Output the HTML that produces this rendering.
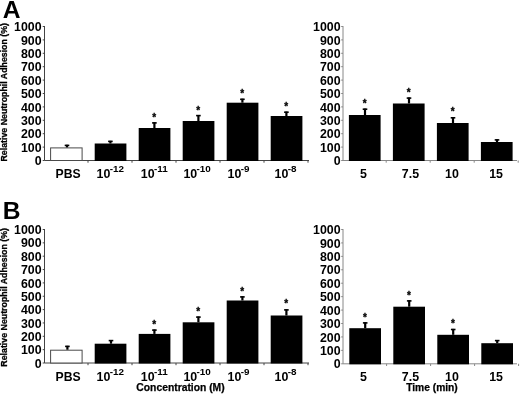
<!DOCTYPE html><html><head><meta charset="utf-8"><title>Figure</title><style>html,body{margin:0;padding:0;background:#fff}svg{display:block}text{font-family:"Liberation Sans",Arial,sans-serif;font-weight:bold;fill:#000}</style></head><body>
<svg width="520" height="394" viewBox="0 0 520 394">
<rect width="520" height="394" fill="#fff"/>
<text x="2.7" y="18.1" font-size="24.6">A</text>
<text transform="translate(6.6,161.5) rotate(-90)" font-size="9.4" stroke="#000" stroke-width="0.3" textLength="138.5" lengthAdjust="spacingAndGlyphs">Relative Neutrophil Adhesion (%)</text>
<path d="M44.5 26.0V160.5H309" fill="none" stroke="#444" stroke-width="1"/>
<path d="M42.7 160.50H44.5" stroke="#444" stroke-width="1"/>
<text transform="translate(41.6,165.10) scale(0.99,1)" font-size="12.5" text-anchor="end">0</text>
<path d="M42.7 147.10H44.5" stroke="#444" stroke-width="1"/>
<text transform="translate(41.6,151.70) scale(0.99,1)" font-size="12.5" text-anchor="end">100</text>
<path d="M42.7 133.70H44.5" stroke="#444" stroke-width="1"/>
<text transform="translate(41.6,138.30) scale(0.99,1)" font-size="12.5" text-anchor="end">200</text>
<path d="M42.7 120.30H44.5" stroke="#444" stroke-width="1"/>
<text transform="translate(41.6,124.90) scale(0.99,1)" font-size="12.5" text-anchor="end">300</text>
<path d="M42.7 106.90H44.5" stroke="#444" stroke-width="1"/>
<text transform="translate(41.6,111.50) scale(0.99,1)" font-size="12.5" text-anchor="end">400</text>
<path d="M42.7 93.50H44.5" stroke="#444" stroke-width="1"/>
<text transform="translate(41.6,98.10) scale(0.99,1)" font-size="12.5" text-anchor="end">500</text>
<path d="M42.7 80.10H44.5" stroke="#444" stroke-width="1"/>
<text transform="translate(41.6,84.70) scale(0.99,1)" font-size="12.5" text-anchor="end">600</text>
<path d="M42.7 66.70H44.5" stroke="#444" stroke-width="1"/>
<text transform="translate(41.6,71.30) scale(0.99,1)" font-size="12.5" text-anchor="end">700</text>
<path d="M42.7 53.30H44.5" stroke="#444" stroke-width="1"/>
<text transform="translate(41.6,57.90) scale(0.99,1)" font-size="12.5" text-anchor="end">800</text>
<path d="M42.7 39.90H44.5" stroke="#444" stroke-width="1"/>
<text transform="translate(41.6,44.50) scale(0.99,1)" font-size="12.5" text-anchor="end">900</text>
<path d="M42.7 26.50H44.5" stroke="#444" stroke-width="1"/>
<text transform="translate(41.6,31.10) scale(0.99,1)" font-size="12.5" text-anchor="end">1000</text>
<path d="M88 160.5v2.2" stroke="#444" stroke-width="1"/>
<path d="M132 160.5v2.2" stroke="#444" stroke-width="1"/>
<path d="M176 160.5v2.2" stroke="#444" stroke-width="1"/>
<path d="M220 160.5v2.2" stroke="#444" stroke-width="1"/>
<path d="M264 160.5v2.2" stroke="#444" stroke-width="1"/>
<path d="M308 160.5v2.2" stroke="#444" stroke-width="1"/>
<rect x="50.6" y="147.9" width="31.5" height="12.599999999999994" fill="#fff" stroke="#4a4a4a" stroke-width="1"/>
<path d="M67.0 147.4V144.8" stroke="#000" stroke-width="2.2"/>
<path d="M64.7 145.4h4.6" stroke="#000" stroke-width="1.6"/>
<text x="55.6" y="178.3" font-size="12.2">PBS</text>
<rect x="94.7" y="143.5" width="31.7" height="17.5" fill="#000"/>
<path d="M110.4 143.5V140.8" stroke="#000" stroke-width="2.2"/>
<path d="M108.10000000000001 141.4h4.6" stroke="#000" stroke-width="1.6"/>
<text x="96.6" y="178.3" font-size="12.4">10<tspan dx="-0.7" dy="-6.0" font-size="9.9">-12</tspan></text>
<rect x="138.7" y="128" width="31.7" height="33.0" fill="#000"/>
<path d="M154.4 128V122.3" stroke="#000" stroke-width="2.2"/>
<path d="M152.1 122.9h4.6" stroke="#000" stroke-width="1.6"/>
<text x="154.20000000000002" y="121.0" font-size="10" text-anchor="middle" stroke="#000" stroke-width="0.3">*</text>
<text x="140.8" y="178.3" font-size="12.4">10<tspan dx="-0.7" dy="-6.0" font-size="9.9">-11</tspan></text>
<rect x="182.7" y="121" width="31.7" height="40.0" fill="#000"/>
<path d="M198.4 121V115.0" stroke="#000" stroke-width="2.2"/>
<path d="M196.1 115.60000000000001h4.6" stroke="#000" stroke-width="1.6"/>
<text x="198.20000000000002" y="113.60000000000001" font-size="10" text-anchor="middle" stroke="#000" stroke-width="0.3">*</text>
<text x="183.4" y="178.3" font-size="12.4">10<tspan dx="-0.7" dy="-6.0" font-size="9.9">-10</tspan></text>
<rect x="226.7" y="102.7" width="31.7" height="58.3" fill="#000"/>
<path d="M242.4 102.7V98.7" stroke="#000" stroke-width="2.2"/>
<path d="M240.1 99.30000000000001h4.6" stroke="#000" stroke-width="1.6"/>
<text x="242.20000000000002" y="97.10000000000001" font-size="10" text-anchor="middle" stroke="#000" stroke-width="0.3">*</text>
<text x="227.6" y="178.3" font-size="12.4">10<tspan dx="-0.7" dy="-6.0" font-size="9.9">-9</tspan></text>
<rect x="270.7" y="116" width="31.7" height="45.0" fill="#000"/>
<path d="M286.4 116V111.6" stroke="#000" stroke-width="2.2"/>
<path d="M284.09999999999997 112.2h4.6" stroke="#000" stroke-width="1.6"/>
<text x="286.2" y="110.10000000000001" font-size="10" text-anchor="middle" stroke="#000" stroke-width="0.3">*</text>
<text x="274.6" y="178.3" font-size="12.4">10<tspan dx="-0.7" dy="-6.0" font-size="9.9">-8</tspan></text>
<path d="M343 26.0V160.5H517" fill="none" stroke="#888" stroke-width="1"/>
<path d="M341.2 160.50H343" stroke="#888" stroke-width="1"/>
<text transform="translate(340.6,165.10) scale(0.99,1)" font-size="12.5" text-anchor="end">0</text>
<path d="M341.2 147.10H343" stroke="#888" stroke-width="1"/>
<text transform="translate(340.6,151.70) scale(0.99,1)" font-size="12.5" text-anchor="end">100</text>
<path d="M341.2 133.70H343" stroke="#888" stroke-width="1"/>
<text transform="translate(340.6,138.30) scale(0.99,1)" font-size="12.5" text-anchor="end">200</text>
<path d="M341.2 120.30H343" stroke="#888" stroke-width="1"/>
<text transform="translate(340.6,124.90) scale(0.99,1)" font-size="12.5" text-anchor="end">300</text>
<path d="M341.2 106.90H343" stroke="#888" stroke-width="1"/>
<text transform="translate(340.6,111.50) scale(0.99,1)" font-size="12.5" text-anchor="end">400</text>
<path d="M341.2 93.50H343" stroke="#888" stroke-width="1"/>
<text transform="translate(340.6,98.10) scale(0.99,1)" font-size="12.5" text-anchor="end">500</text>
<path d="M341.2 80.10H343" stroke="#888" stroke-width="1"/>
<text transform="translate(340.6,84.70) scale(0.99,1)" font-size="12.5" text-anchor="end">600</text>
<path d="M341.2 66.70H343" stroke="#888" stroke-width="1"/>
<text transform="translate(340.6,71.30) scale(0.99,1)" font-size="12.5" text-anchor="end">700</text>
<path d="M341.2 53.30H343" stroke="#888" stroke-width="1"/>
<text transform="translate(340.6,57.90) scale(0.99,1)" font-size="12.5" text-anchor="end">800</text>
<path d="M341.2 39.90H343" stroke="#888" stroke-width="1"/>
<text transform="translate(340.6,44.50) scale(0.99,1)" font-size="12.5" text-anchor="end">900</text>
<path d="M341.2 26.50H343" stroke="#888" stroke-width="1"/>
<text transform="translate(340.6,31.10) scale(0.99,1)" font-size="12.5" text-anchor="end">1000</text>
<path d="M386.2 160.5v2.2" stroke="#888" stroke-width="1"/>
<path d="M430.2 160.5v2.2" stroke="#888" stroke-width="1"/>
<path d="M474.2 160.5v2.2" stroke="#888" stroke-width="1"/>
<path d="M518.2 160.5v2.2" stroke="#888" stroke-width="1"/>
<rect x="348.9" y="115" width="31.7" height="46.0" fill="#000"/>
<path d="M364.99999999999994 115V108.6" stroke="#000" stroke-width="2.2"/>
<path d="M362.69999999999993 109.2h4.6" stroke="#000" stroke-width="1.6"/>
<text x="364.79999999999995" y="106.7" font-size="10" text-anchor="middle" stroke="#000" stroke-width="0.3">*</text>
<text x="359.9" y="178.3" font-size="12.4">5</text>
<rect x="392.9" y="103.5" width="31.7" height="57.5" fill="#000"/>
<path d="M408.99999999999994 103.5V97.5" stroke="#000" stroke-width="2.2"/>
<path d="M406.69999999999993 98.10000000000001h4.6" stroke="#000" stroke-width="1.6"/>
<text x="408.79999999999995" y="96.10000000000001" font-size="10" text-anchor="middle" stroke="#000" stroke-width="0.3">*</text>
<text x="401.8" y="178.3" font-size="12.4">7.5</text>
<rect x="436.9" y="123" width="31.7" height="38.0" fill="#000"/>
<path d="M452.99999999999994 123V117.2" stroke="#000" stroke-width="2.2"/>
<path d="M450.69999999999993 117.80000000000001h4.6" stroke="#000" stroke-width="1.6"/>
<text x="452.79999999999995" y="114.80000000000001" font-size="10" text-anchor="middle" stroke="#000" stroke-width="0.3">*</text>
<text x="445.0" y="178.3" font-size="12.4">10</text>
<rect x="480.9" y="142" width="31.7" height="19.0" fill="#000"/>
<path d="M496.99999999999994 142V139.3" stroke="#000" stroke-width="2.2"/>
<path d="M494.69999999999993 139.9h4.6" stroke="#000" stroke-width="1.6"/>
<text x="489.2" y="178.3" font-size="12.4">15</text>
<text x="2.7" y="219.2" font-size="24.6">B</text>
<text transform="translate(6.6,366.7) rotate(-90)" font-size="9.4" stroke="#000" stroke-width="0.3" textLength="138.7" lengthAdjust="spacingAndGlyphs">Relative Neutrophil Adhesion (%)</text>
<path d="M44.5 229.0V363H309" fill="none" stroke="#444" stroke-width="1"/>
<path d="M42.7 363.00H44.5" stroke="#444" stroke-width="1"/>
<text transform="translate(41.6,367.60) scale(0.99,1)" font-size="12.5" text-anchor="end">0</text>
<path d="M42.7 349.65H44.5" stroke="#444" stroke-width="1"/>
<text transform="translate(41.6,354.25) scale(0.99,1)" font-size="12.5" text-anchor="end">100</text>
<path d="M42.7 336.30H44.5" stroke="#444" stroke-width="1"/>
<text transform="translate(41.6,340.90) scale(0.99,1)" font-size="12.5" text-anchor="end">200</text>
<path d="M42.7 322.95H44.5" stroke="#444" stroke-width="1"/>
<text transform="translate(41.6,327.55) scale(0.99,1)" font-size="12.5" text-anchor="end">300</text>
<path d="M42.7 309.60H44.5" stroke="#444" stroke-width="1"/>
<text transform="translate(41.6,314.20) scale(0.99,1)" font-size="12.5" text-anchor="end">400</text>
<path d="M42.7 296.25H44.5" stroke="#444" stroke-width="1"/>
<text transform="translate(41.6,300.85) scale(0.99,1)" font-size="12.5" text-anchor="end">500</text>
<path d="M42.7 282.90H44.5" stroke="#444" stroke-width="1"/>
<text transform="translate(41.6,287.50) scale(0.99,1)" font-size="12.5" text-anchor="end">600</text>
<path d="M42.7 269.55H44.5" stroke="#444" stroke-width="1"/>
<text transform="translate(41.6,274.15) scale(0.99,1)" font-size="12.5" text-anchor="end">700</text>
<path d="M42.7 256.20H44.5" stroke="#444" stroke-width="1"/>
<text transform="translate(41.6,260.80) scale(0.99,1)" font-size="12.5" text-anchor="end">800</text>
<path d="M42.7 242.85H44.5" stroke="#444" stroke-width="1"/>
<text transform="translate(41.6,247.45) scale(0.99,1)" font-size="12.5" text-anchor="end">900</text>
<path d="M42.7 229.50H44.5" stroke="#444" stroke-width="1"/>
<text transform="translate(41.6,234.10) scale(0.99,1)" font-size="12.5" text-anchor="end">1000</text>
<path d="M88 363v2.2" stroke="#444" stroke-width="1"/>
<path d="M132 363v2.2" stroke="#444" stroke-width="1"/>
<path d="M176 363v2.2" stroke="#444" stroke-width="1"/>
<path d="M220 363v2.2" stroke="#444" stroke-width="1"/>
<path d="M264 363v2.2" stroke="#444" stroke-width="1"/>
<path d="M308 363v2.2" stroke="#444" stroke-width="1"/>
<rect x="50.6" y="350.2" width="31.5" height="12.800000000000011" fill="#fff" stroke="#4a4a4a" stroke-width="1"/>
<path d="M67.4 349.7V345.8" stroke="#000" stroke-width="2.2"/>
<path d="M65.10000000000001 346.4h4.6" stroke="#000" stroke-width="1.6"/>
<text x="55.6" y="380.8" font-size="12.2">PBS</text>
<rect x="94.7" y="343.7" width="31.7" height="19.80000000000001" fill="#000"/>
<path d="M111.0 343.7V340.0" stroke="#000" stroke-width="2.2"/>
<path d="M108.7 340.59999999999997h4.6" stroke="#000" stroke-width="1.6"/>
<text x="96.6" y="380.8" font-size="12.4">10<tspan dx="-0.7" dy="-6.0" font-size="9.9">-12</tspan></text>
<rect x="138.7" y="333.9" width="31.7" height="29.600000000000023" fill="#000"/>
<path d="M154.4 333.9V329.5" stroke="#000" stroke-width="2.2"/>
<path d="M152.1 330.09999999999997h4.6" stroke="#000" stroke-width="1.6"/>
<text x="154.20000000000002" y="328.2" font-size="10" text-anchor="middle" stroke="#000" stroke-width="0.3">*</text>
<text x="140.8" y="380.8" font-size="12.4">10<tspan dx="-0.7" dy="-6.0" font-size="9.9">-11</tspan></text>
<rect x="182.7" y="322.3" width="31.7" height="41.19999999999999" fill="#000"/>
<path d="M198.4 322.3V316.5" stroke="#000" stroke-width="2.2"/>
<path d="M196.1 317.09999999999997h4.6" stroke="#000" stroke-width="1.6"/>
<text x="198.20000000000002" y="314.59999999999997" font-size="10" text-anchor="middle" stroke="#000" stroke-width="0.3">*</text>
<text x="183.4" y="380.8" font-size="12.4">10<tspan dx="-0.7" dy="-6.0" font-size="9.9">-10</tspan></text>
<rect x="226.7" y="300.5" width="31.7" height="63.0" fill="#000"/>
<path d="M242.4 300.5V296.3" stroke="#000" stroke-width="2.2"/>
<path d="M240.1 296.9h4.6" stroke="#000" stroke-width="1.6"/>
<text x="242.20000000000002" y="295.09999999999997" font-size="10" text-anchor="middle" stroke="#000" stroke-width="0.3">*</text>
<text x="227.6" y="380.8" font-size="12.4">10<tspan dx="-0.7" dy="-6.0" font-size="9.9">-9</tspan></text>
<rect x="270.7" y="315.5" width="31.7" height="48.0" fill="#000"/>
<path d="M286.4 315.5V309.3" stroke="#000" stroke-width="2.2"/>
<path d="M284.09999999999997 309.9h4.6" stroke="#000" stroke-width="1.6"/>
<text x="286.2" y="307.09999999999997" font-size="10" text-anchor="middle" stroke="#000" stroke-width="0.3">*</text>
<text x="274.6" y="380.8" font-size="12.4">10<tspan dx="-0.7" dy="-6.0" font-size="9.9">-8</tspan></text>
<path d="M343 229.0V363.8H517" fill="none" stroke="#888" stroke-width="1"/>
<path d="M341.2 363.80H343" stroke="#888" stroke-width="1"/>
<text transform="translate(340.6,368.40) scale(0.99,1)" font-size="12.5" text-anchor="end">0</text>
<path d="M341.2 350.37H343" stroke="#888" stroke-width="1"/>
<text transform="translate(340.6,354.97) scale(0.99,1)" font-size="12.5" text-anchor="end">100</text>
<path d="M341.2 336.94H343" stroke="#888" stroke-width="1"/>
<text transform="translate(340.6,341.54) scale(0.99,1)" font-size="12.5" text-anchor="end">200</text>
<path d="M341.2 323.51H343" stroke="#888" stroke-width="1"/>
<text transform="translate(340.6,328.11) scale(0.99,1)" font-size="12.5" text-anchor="end">300</text>
<path d="M341.2 310.08H343" stroke="#888" stroke-width="1"/>
<text transform="translate(340.6,314.68) scale(0.99,1)" font-size="12.5" text-anchor="end">400</text>
<path d="M341.2 296.65H343" stroke="#888" stroke-width="1"/>
<text transform="translate(340.6,301.25) scale(0.99,1)" font-size="12.5" text-anchor="end">500</text>
<path d="M341.2 283.22H343" stroke="#888" stroke-width="1"/>
<text transform="translate(340.6,287.82) scale(0.99,1)" font-size="12.5" text-anchor="end">600</text>
<path d="M341.2 269.79H343" stroke="#888" stroke-width="1"/>
<text transform="translate(340.6,274.39) scale(0.99,1)" font-size="12.5" text-anchor="end">700</text>
<path d="M341.2 256.36H343" stroke="#888" stroke-width="1"/>
<text transform="translate(340.6,260.96) scale(0.99,1)" font-size="12.5" text-anchor="end">800</text>
<path d="M341.2 242.93H343" stroke="#888" stroke-width="1"/>
<text transform="translate(340.6,247.53) scale(0.99,1)" font-size="12.5" text-anchor="end">900</text>
<path d="M341.2 229.50H343" stroke="#888" stroke-width="1"/>
<text transform="translate(340.6,234.10) scale(0.99,1)" font-size="12.5" text-anchor="end">1000</text>
<path d="M386.6 363.8v2.2" stroke="#888" stroke-width="1"/>
<path d="M430.6 363.8v2.2" stroke="#888" stroke-width="1"/>
<path d="M474.6 363.8v2.2" stroke="#888" stroke-width="1"/>
<path d="M518.6 363.8v2.2" stroke="#888" stroke-width="1"/>
<rect x="349.3" y="328.2" width="31.7" height="36.10000000000002" fill="#000"/>
<path d="M365.2 328.2V322.3" stroke="#000" stroke-width="2.2"/>
<path d="M362.9 322.9h4.6" stroke="#000" stroke-width="1.6"/>
<text x="365.0" y="320.59999999999997" font-size="10" text-anchor="middle" stroke="#000" stroke-width="0.3">*</text>
<text x="359.9" y="380.8" font-size="12.4">5</text>
<rect x="393.3" y="306.7" width="31.7" height="57.60000000000002" fill="#000"/>
<path d="M409.2 306.7V300.3" stroke="#000" stroke-width="2.2"/>
<path d="M406.9 300.9h4.6" stroke="#000" stroke-width="1.6"/>
<text x="409.0" y="298.5" font-size="10" text-anchor="middle" stroke="#000" stroke-width="0.3">*</text>
<text x="401.8" y="380.8" font-size="12.4">7.5</text>
<rect x="437.3" y="334.8" width="31.7" height="29.5" fill="#000"/>
<path d="M453.2 334.8V328.90000000000003" stroke="#000" stroke-width="2.2"/>
<path d="M450.9 329.5h4.6" stroke="#000" stroke-width="1.6"/>
<text x="453.0" y="327.09999999999997" font-size="10" text-anchor="middle" stroke="#000" stroke-width="0.3">*</text>
<text x="445.0" y="380.8" font-size="12.4">10</text>
<rect x="481.3" y="343.2" width="31.7" height="21.100000000000023" fill="#000"/>
<path d="M497.2 343.2V340.0" stroke="#000" stroke-width="2.2"/>
<path d="M494.9 340.59999999999997h4.6" stroke="#000" stroke-width="1.6"/>
<text x="489.2" y="380.8" font-size="12.4">15</text>
<text x="180.5" y="391.2" font-size="10.2" textLength="88.3" lengthAdjust="spacingAndGlyphs" stroke="#000" stroke-width="0.25" text-anchor="middle">Concentration (M)</text>
<text x="432" y="391.2" font-size="10.2" textLength="51.6" lengthAdjust="spacingAndGlyphs" stroke="#000" stroke-width="0.25" text-anchor="middle">Time (min)</text>
</svg></body></html>
